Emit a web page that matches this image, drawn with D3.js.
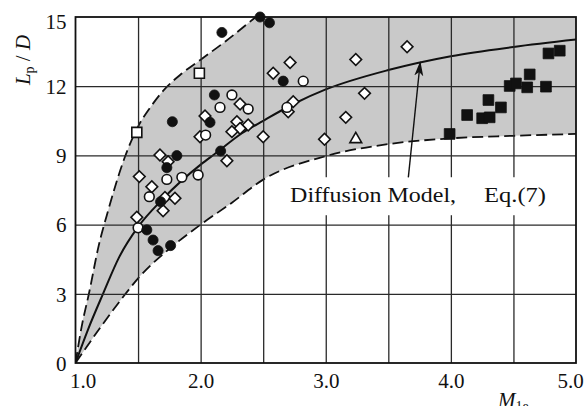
<!DOCTYPE html>
<html><head><meta charset="utf-8">
<script src="https://cdn.jsdelivr.net/npm/d3@7"></script>
<style>
html,body{margin:0;padding:0;background:#fff;}
svg{display:block;}
text{font-family:"Liberation Serif","Times New Roman",serif;fill:#111;}
</style></head>
<body>
<svg id="chart" width="584" height="406"></svg>
<script>
// ---- data ----
const xTicks = [1.0, 2.0, 3.0, 4.0, 5.0];
const xGrid = [1.5, 2.0, 2.5, 3.0, 3.5, 4.0, 4.5];
const yTicks = [0, 3, 6, 9, 12, 15];
const yGrid = [3, 6, 9, 12];

// Diffusion model, Eq.(7) (solid)
const modelCurve = [[1.0,0],[1.1,1.45],[1.22,3.0],[1.35,4.6],[1.5,5.9],[1.69,7.07],[2.0,8.6],[2.12,9.09],[2.33,9.96],[2.5,10.5],[2.75,11.25],[3.0,11.86],[3.5,12.7],[4.0,13.3],[4.5,13.7],[5.0,14.02]];
// upper bound (dashed)
const upperCurve = [[1.0,0],[1.05,1.6],[1.107,3.0],[1.186,5.1],[1.262,6.63],[1.396,8.95],[1.5,10.25],[1.6,11.1],[1.7,11.8],[1.85,12.55],[2.0,13.15],[2.2,13.95],[2.44,15.0]];
// lower bound (dashed)
const lowerCurve = [[1.0,0],[1.2,1.55],[1.4,3.0],[1.5,3.67],[1.75,4.95],[2.0,6.0],[2.25,6.95],[2.5,7.95],[3.0,8.97],[3.5,9.49],[4.0,9.74],[4.5,9.85],[5.0,9.93]];

const filledCircles = [[2.475,15.0],[2.55,14.75],[2.17,14.33],[2.11,11.62],[1.774,10.46],[2.075,10.43],[1.81,8.99],[1.73,8.47],[2.16,9.19],[1.68,6.99],[1.57,5.77],[1.62,5.33],[1.66,4.87],[1.76,5.09],[2.66,12.22]];
const openCircles = [[2.25,11.62],[2.155,11.08],[2.38,11.01],[2.04,9.88],[1.98,8.15],[1.85,8.05],[1.73,7.96],[1.59,7.21],[1.50,5.86],[2.82,12.22],[2.69,11.08]];
const openDiamonds = [[2.315,11.23],[2.035,10.71],[2.29,10.46],[2.38,10.32],[2.315,10.17],[2.25,10.03],[1.995,9.81],[2.50,9.81],[2.21,8.77],[1.675,9.02],[1.74,8.73],[1.51,8.08],[1.61,7.64],[1.715,7.18],[1.795,7.14],[1.70,6.60],[1.49,6.32],[2.58,12.56],[2.715,13.03],[2.74,11.33],[2.70,10.89],[2.99,9.70],[3.16,10.65],[3.31,11.69],[3.24,13.16],[3.65,13.71]];
const openSquares = [[1.49,10.0],[1.99,12.56]];
const openTriangles = [[3.24,9.70]];
const filledSquares = [[3.99,9.93],[4.13,10.75],[4.25,10.61],[4.31,10.65],[4.30,11.40],[4.40,11.08],[4.47,12.01],[4.52,12.12],[4.63,12.51],[4.61,11.95],[4.76,11.98],[4.78,13.42],[4.87,13.54]];

const annotation = {text1:"Diffusion Model,", text2:"Eq.(7)", x1:2.715, x2:4.265, y:6.97};
const arrowFrom = [3.66, 8.05], arrowTo = [3.755, 13.05];

// ---- layout ----
const svg = d3.select("#chart");
const m = {left:75.5, top:17, right:8, bottom:43};
const W = 584 - m.left - m.right, H = 406 - m.top - m.bottom;
const x = d3.scaleLinear().domain([1,5]).range([0,W]);
const y = d3.scaleLinear().domain([0,15]).range([H,0]);
const g = svg.append("g").attr("transform",`translate(${m.left},${m.top})`);

g.append("clipPath").attr("id","clip").append("rect").attr("width",W).attr("height",H);
const plot = g.append("g").attr("clip-path","url(#clip)");

const line = d3.line().x(d=>x(d[0])).y(d=>y(d[1])).curve(d3.curveMonotoneX);

// shaded band
plot.append("path")
  .attr("d", line(upperCurve) + `L${x(5)},${y(15)}L${x(5)},${y(0)}Z`)
  .attr("fill","#c9c9c9");
plot.append("path")
  .attr("d", line(lowerCurve) + `L${x(5)},${y(0)}Z`)
  .attr("fill","#fff");

// grid
g.append("g").attr("transform",`translate(0,${H})`)
  .call(d3.axisBottom(x).tickValues(xGrid).tickSize(-H).tickFormat(""))
  .call(a=>a.select(".domain").remove())
  .call(a=>a.selectAll("line").attr("stroke","#2a2a2a").attr("stroke-width",1.3));
g.append("g")
  .call(d3.axisLeft(y).tickValues(yGrid).tickSize(-W).tickFormat(""))
  .call(a=>a.select(".domain").remove())
  .call(a=>a.selectAll("line").attr("stroke","#2a2a2a").attr("stroke-width",1.3));

// curves
plot.append("path").attr("d",line(upperCurve)).attr("fill","none").attr("stroke","#111").attr("stroke-width",1.8).attr("stroke-dasharray","11,5");
plot.append("path").attr("d",line(lowerCurve)).attr("fill","none").attr("stroke","#111").attr("stroke-width",1.8).attr("stroke-dasharray","11,5");
plot.append("path").attr("d",line(modelCurve)).attr("fill","none").attr("stroke","#111").attr("stroke-width",2);

// annotation box + text
const ann = g.append("g");
const ty = y(annotation.y);
ann.append("rect").attr("x",x(annotation.x1)-6).attr("y",ty-25).attr("width",x(annotation.x2)-x(annotation.x1)+74).attr("height",38).attr("fill","#fff");
ann.append("text").attr("x",x(annotation.x1)).attr("y",ty).attr("font-size",22)
  .attr("textLength",166).attr("lengthAdjust","spacingAndGlyphs").text(annotation.text1);
ann.append("text").attr("x",x(annotation.x2)).attr("y",ty).attr("font-size",22)
  .attr("textLength",62).attr("lengthAdjust","spacingAndGlyphs").text(annotation.text2);

// arrow
const defs = svg.append("defs");
defs.append("marker").attr("id","ah").attr("viewBox","0 -5 15 10").attr("refX",14).attr("refY",0)
  .attr("markerWidth",15).attr("markerHeight",10).attr("markerUnits","userSpaceOnUse").attr("orient","auto")
  .append("path").attr("d","M0,-4.5L15,0L0,4.5L4,0Z").attr("fill","#111");
g.append("line").attr("x1",x(arrowFrom[0])).attr("y1",y(arrowFrom[1])).attr("x2",x(arrowTo[0])).attr("y2",y(arrowTo[1]))
  .attr("stroke","#111").attr("stroke-width",1.4).attr("marker-end","url(#ah)");

// points
const pts = g.append("g");
const sym = (type,size)=>d3.symbol().type(type).size(size)();
function draw(data, type, size, fill, rot){
  pts.selectAll(null).data(data).enter().append("path")
    .attr("d", sym(type,size))
    .attr("transform", d=>`translate(${x(d[0])},${y(d[1])})${rot?` rotate(${rot})`:""}`)
    .attr("fill", fill).attr("stroke","#111").attr("stroke-width", fill==="#fff"?1.6:0.8);
}
draw(openDiamonds, d3.symbolSquare, 68, "#fff", 45);
draw(openCircles, d3.symbolCircle, 74, "#fff");
draw(filledCircles, d3.symbolCircle, 80, "#111");
draw(openSquares, d3.symbolSquare, 100, "#fff");
draw(openTriangles, d3.symbolTriangle, 60, "#fff");
draw(filledSquares, d3.symbolSquare, 115, "#111");

// frame
g.append("rect").attr("width",W).attr("height",H).attr("fill","none").attr("stroke","#111").attr("stroke-width",1.8);

// tick labels
const xa = g.append("g").attr("transform",`translate(0,${H})`)
  .call(d3.axisBottom(x).tickValues(xTicks).tickSize(0).tickPadding(10).tickFormat(d3.format(".1f")));
xa.select(".domain").remove();
xa.selectAll("text").attr("font-size",21).attr("font-family","Liberation Serif").attr("fill","#111")
  .attr("dx",(d,i)=> i===0?7:(i===xTicks.length-1?-6:0));
const ya = g.append("g")
  .call(d3.axisLeft(y).tickValues(yTicks).tickSize(0).tickPadding(9).tickFormat(d3.format("d")));
ya.select(".domain").remove();
ya.selectAll("text").attr("font-size",21).attr("font-family","Liberation Serif").attr("fill","#111")
  .attr("dy",(d,i)=> d===15?"0.55em":"0.35em");

// axis titles
const yl = svg.append("text").attr("transform","translate(30,60) rotate(-90)").attr("text-anchor","middle").attr("font-size",21);
yl.append("tspan").attr("font-style","italic").text("L");
yl.append("tspan").attr("font-size",14).attr("dy",4).text("p");
yl.append("tspan").attr("dy",-4).text(" / ");
yl.append("tspan").attr("font-style","italic").text("D");

const xl = svg.append("text").attr("x",498).attr("y",407).attr("font-size",21);
xl.append("tspan").attr("font-style","italic").text("M");
xl.append("tspan").attr("font-size",14).attr("dy",4).text("1e");
</script>
</body></html>
